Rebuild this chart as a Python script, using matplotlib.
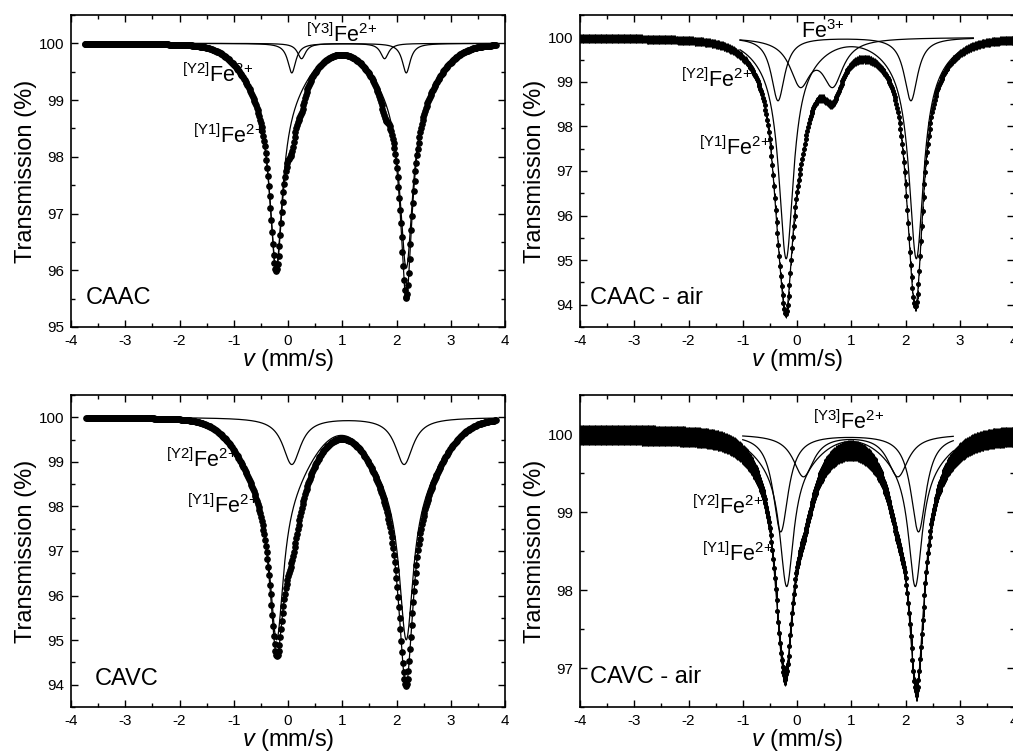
import numpy as np
import matplotlib
matplotlib.use("Agg")
import matplotlib.pyplot as plt
from matplotlib.ticker import MultipleLocator

plt.rcParams['font.family'] = ['Liberation Sans', 'DejaVu Sans']
plt.rcParams['mathtext.fontset'] = 'custom'
plt.rcParams['mathtext.rm'] = 'Liberation Sans'
plt.rcParams['mathtext.it'] = 'Liberation Sans:italic'
plt.rcParams['mathtext.default'] = 'regular'
plt.rcParams['axes.unicode_minus'] = False

# Fitted doublets: line positions (mm/s), depth (%), HWHM (mm/s),
# fraction of the depth in a broad gaussian wing (sigma per sample)

# CAAC: [Y1], [Y2], [Y3] Fe2+
caac_pos = [(-0.22, 2.18), (0.07, 2.18), (0.25, 1.78)]
caac_depth = [3.95, 0.52, 0.27]
caac_hwhm = [0.14, 0.09, 0.09]
caac_wing = [0.23, 0.0, 0.0]
caac_sigma = 0.5

# CAAC - air: [Y1], [Y2] Fe2+, Fe3+
caac_air_pos = [(-0.2, 2.2), (-0.35, 2.1), (0.06, 0.66)]
caac_air_depth = [4.95, 1.42, 1.0]
caac_air_hwhm = [0.16, 0.15, 0.23]
caac_air_wing = [0.1, 0.0, 0.0]
caac_air_sigma = 0.5

# CAVC: [Y1], [Y2] Fe2+
cavc_pos = [(-0.21, 2.18), (0.07, 2.14)]
cavc_depth = [4.98, 1.05]
cavc_hwhm = [0.15, 0.2]
cavc_wing = [0.32, 0.0]
cavc_sigma = 0.55

# CAVC - air: [Y1], [Y2], [Y3] Fe2+
cavc_air_pos = [(-0.19, 2.18), (-0.30, 2.24), (0.12, 1.86)]
cavc_air_depth = [1.95, 1.25, 0.54]
cavc_air_hwhm = [0.15, 0.17, 0.23]
cavc_air_wing = [0.2, 0.0, 0.0]
cavc_air_sigma = 0.5

# velocity window of the measured channels and of the drawn fit
caac_vrange, caac_fit = (-3.75, 3.83), (-3.75, 3.83)
caac_air_vrange, caac_air_fit = (-4.0, 4.05), (-1.05, 3.25)
cavc_vrange, cavc_fit = (-3.72, 3.83), (-3.72, 3.83)
cavc_air_vrange, cavc_air_fit = (-4.0, 4.05), (-1.0, 2.88)
N_CHANNELS = 512

# error bar of the points (%), only the air samples show them
caac_air_err, cavc_air_err = 0.1, 0.13


def doublet(v, pos, depth, hwhm, wing, sigma):
    out = np.zeros_like(v)
    for c in pos:
        x = v - c
        lor = (1 - wing) / (1 + (x / hwhm) ** 2)
        gau = wing * np.exp(-0.5 * (x / sigma) ** 2)
        out += depth * (lor + gau)
    return out


FE2 = {1: r'$^{[Y1]}$Fe$^{2{+}}$', 2: r'$^{[Y2]}$Fe$^{2{+}}$', 3: r'$^{[Y3]}$Fe$^{2{+}}$'}


def panel(ax, pos, depth, hwhm, wing, sigma, vrange, fitrange, err, ylim,
          name, name_xy, labels):
    v = np.linspace(vrange[0], vrange[1], N_CHANNELS)
    vf = np.linspace(fitrange[0], fitrange[1], 1500)

    total = np.zeros_like(v)
    total_f = np.zeros_like(vf)
    for p, d, h, w in zip(pos, depth, hwhm, wing):
        total += doublet(v, p, d, h, w, sigma)
        comp = doublet(vf, p, d, h, w, sigma)
        total_f += comp
        ax.plot(vf, 100 - comp, color='k', lw=0.9, zorder=2)

    if err:
        ax.errorbar(v, 100 - total, yerr=err, fmt='o', ms=2.6, color='k',
                    elinewidth=0.75, capsize=0, zorder=3)
    else:
        ax.plot(v, 100 - total, 'o', ms=3.8, color='k', zorder=3)
    ax.plot(vf, 100 - total_f, color='k', lw=0.9, zorder=4)

    for x, y, s in labels:
        ax.text(x, y, s, fontsize=15.5, ha='left', va='baseline', zorder=1)
    ax.text(name_xy[0], name_xy[1], name, fontsize=17, ha='left', va='baseline', zorder=1)

    ax.set_xlim(-4, 4)
    ax.set_ylim(*ylim)
    ax.xaxis.set_major_locator(MultipleLocator(1))
    ax.xaxis.set_minor_locator(MultipleLocator(0.5))
    ax.yaxis.set_major_locator(MultipleLocator(1))
    ax.yaxis.set_minor_locator(MultipleLocator(0.5))
    ax.tick_params(which='both', direction='in', top=True, right=True, labelsize=11, width=1.0)
    ax.tick_params(which='major', length=5, pad=5)
    ax.tick_params(which='minor', length=3)
    for s in ax.spines.values():
        s.set_linewidth(1.2)
    ax.set_ylabel('Transmission (%)', fontsize=17, labelpad=1)
    ax.set_xlabel(r'$\mathit{v}$ (mm/s)', fontsize=17, labelpad=-1)


fig = plt.figure(figsize=(10.13, 7.53), dpi=100)
W, H = 1013, 753
ax_tl = fig.add_axes([71 / W, 1 - 327 / H, 434 / W, 312 / H])
ax_tr = fig.add_axes([580 / W, 1 - 327 / H, 434 / W, 312 / H])
ax_bl = fig.add_axes([71 / W, 1 - 707 / H, 434 / W, 312 / H])
ax_br = fig.add_axes([580 / W, 1 - 707 / H, 434 / W, 312 / H])

panel(ax_tl, caac_pos, caac_depth, caac_hwhm, caac_wing, caac_sigma, caac_vrange, caac_fit,
      None, (95, 100.5), 'CAAC', (-3.72, 95.41),
      [(0.33, 100.03, FE2[3]), (-1.96, 99.32, FE2[2]), (-1.76, 98.25, FE2[1])])

panel(ax_tr, caac_air_pos, caac_air_depth, caac_air_hwhm, caac_air_wing, caac_air_sigma,
      caac_air_vrange, caac_air_fit, caac_air_err, (93.5, 100.5), 'CAAC - air', (-3.82, 94.02),
      [(0.07, 99.98, r'Fe$^{3{+}}$'), (-2.13, 98.88, FE2[2]), (-1.8, 97.35, FE2[1])])

panel(ax_bl, cavc_pos, cavc_depth, cavc_hwhm, cavc_wing, cavc_sigma, cavc_vrange, cavc_fit,
      None, (93.5, 100.5), 'CAVC', (-3.56, 94.0),
      [(-2.24, 98.88, FE2[2]), (-1.87, 97.85, FE2[1])])

panel(ax_br, cavc_air_pos, cavc_air_depth, cavc_air_hwhm, cavc_air_wing, cavc_air_sigma,
      cavc_air_vrange, cavc_air_fit, cavc_air_err, (96.5, 100.5), 'CAVC - air', (-3.82, 96.81),
      [(0.30, 100.06, FE2[3]), (-1.94, 98.97, FE2[2]), (-1.76, 98.37, FE2[1])])

fig.savefig('out.png', dpi=100)
